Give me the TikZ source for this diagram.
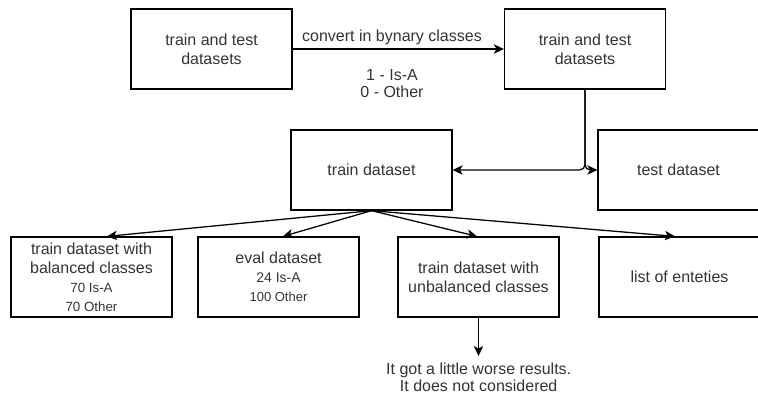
\documentclass[tikz,border=0pt]{standalone}
\usepackage{fontspec}
\setmainfont{Liberation Sans}
\usetikzlibrary{arrows.meta}
\begin{document}
\begin{tikzpicture}[x=0.75pt,y=-0.75pt,
  box/.style={draw=black, line width=0.95pt, minimum width=120.75pt, minimum height=60pt,
    inner sep=0pt, align=center, text=black!80, font=\fontsize{12}{14.25}\selectfont},
  arr/.style={draw=black, line width=0.95pt, -{Stealth[length=7.5pt,width=7pt,inset=2pt]}},
  note/.style={text=black!80, align=center, inner sep=0pt, font=\fontsize{12}{12.75}\selectfont}]
\useasboundingbox (0,0) rectangle (758,394);

% top row
\node[box] (src) at (211.5,49) {train and test\\datasets};
\node[box] (bin) at (585,49) {train and test\\datasets};
\node[note] (conv) at (392,37) {convert in bynary classes};
\node[note] (codes) at (392,83.5) {1 - Is-A\\[0pt]0 - Other};
\draw[arr] (src.east) -- (bin.west);

% split into train and test
\node[box] (train) at (371.5,170) {train dataset};
\node[box] (test) at (678.5,170) {test dataset};
\draw[arr, rounded corners=4pt] (bin.south) |- (train.east);
\draw[arr, rounded corners=4pt] (bin.south) |- (test.west);

% bottom row
\node[box] (bal) at (91.5,277) {train dataset with\\balanced classes\\{\fontsize{10}{14.25}\selectfont 70 Is-A}\\{\fontsize{10}{14.25}\selectfont 70 Other}};
\node[box] (eval) at (278.5,277) {eval dataset\\{\fontsize{10.5}{14.25}\selectfont 24 Is-A}\\{\fontsize{9.75}{14.25}\selectfont 100 Other}};
\node[box] (unbal) at (478.5,277) {train dataset with\\unbalanced classes};
\node[box] (ents) at (679.5,277) {list of enteties};

\draw[arr] (train.south) -- ([xshift=11.6pt]bal.north);
\draw[arr] (train.south) -- ([xshift=3.4pt]eval.north);
\draw[arr] (train.south) -- ([xshift=-1.1pt]unbal.north);
\draw[arr] (train.south) -- ([xshift=-3.4pt]ents.north);

% remark under the unbalanced set
\node[note] (remark) at (478.7,377.5) {It got a little worse results.\\[0pt]It does not considered};
\coordinate (remtop) at (478.5,356);
\draw[arr] (unbal.south) -- (remtop);
\end{tikzpicture}
\end{document}
